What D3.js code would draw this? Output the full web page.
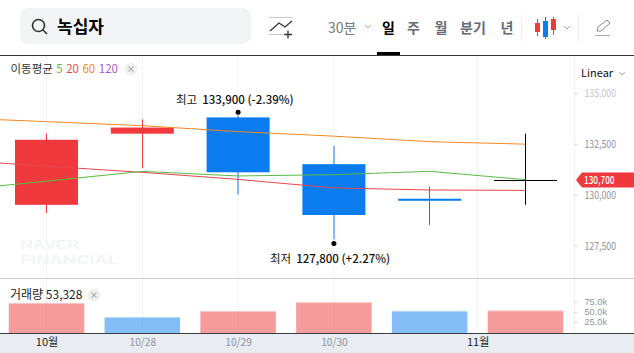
<!DOCTYPE html>
<html><head><meta charset="utf-8">
<script src="https://d3js.org/d3.v7.min.js"></script>
<style>
html,body{margin:0;padding:0;background:#fff;overflow:hidden}
text{font-family:"Noto Sans CJK KR","Noto Sans",sans-serif}
</style></head><body><svg id="c" width="634" height="353"></svg>
<script>
const categories=["10/27","10/28","10/29","10/30","10/31","11/3"];
const opens=[129500,133000,133800,131500,129800,130700];
const closes=[132700,133300,131100,129000,129700,130700];
const highs=[133000,133700,133900,132400,130400,133000];
const lows=[129100,131300,130000,127800,128500,129500];
const volumes=[71750,36750,51700,74000,52000,53328];
const volumeRising=[true,false,true,true,false,true];
const maIndex=[-1,0,1,2,3,4,5];
const ma5=[130197,130664,131146,130920,130984,131146,130738];
const ma20=[131720,131400,131097,130752,130330,130231,130211];
const ma60=[133787,133590,133393,133098,132877,132607,132484];
const priceTicks=[135000,132500,130000,127500];
const volumeTicks=[75000,50000,25000];
const dateTickIndex=[0,1,2,3,4.5];
const dateTickLabels=["10월","10/28","10/29","10/30","11월"];
const lastPrice=130700;

const RED="#f0393c",BLUE="#0b7cf0";
const svg=d3.select("#c");
const x=d3.scaleLinear().domain([0,5]).range([46.5,525.5]);
const y=d3.scaleLinear().domain([127500,135000]).range([245.5,93]);
const vY=d3.scaleLinear().domain([-3250,75000]).range([333,301.7]);
const bodyW=63, volW=75.5;
const px=v=>Math.round(v*2)/2;
const squeeze=(sel,w)=>sel.attr("textLength",w).attr("lengthAdjust","spacingAndGlyphs");

// x band and gridlines
svg.append("rect").attr("x",0).attr("y",334).attr("width",634).attr("height",19).attr("fill","#e9ecf1");
svg.append("g").selectAll("line").data(dateTickIndex).join("line")
  .attr("x1",d=>px(x(d))).attr("x2",d=>px(x(d))).attr("y1",56).attr("y2",333)
  .attr("stroke","#f0f2f5");
svg.append("line").attr("x1",574.5).attr("x2",574.5).attr("y1",56).attr("y2",333).attr("stroke","#eceef2");

// watermark
const wm=svg.append("g").attr("fill","#f3f5f8").style("font-weight",700).style("font-size","13px");
wm.append("text").attr("x",20).attr("y",248.5).attr("textLength",60).attr("lengthAdjust","spacingAndGlyphs").style("font-family","Liberation Sans").text("NAVER");
wm.append("text").attr("x",20).attr("y",263.5).attr("textLength",99).attr("lengthAdjust","spacingAndGlyphs").style("font-family","Liberation Sans").text("FINANCIAL");

// panes
svg.append("line").attr("x1",0).attr("x2",634).attr("y1",278.5).attr("y2",278.5).attr("stroke","#c8c9d2");
svg.append("line").attr("x1",0).attr("x2",634).attr("y1",333.5).attr("y2",333.5).attr("stroke","#3a3d42");
svg.append("line").attr("x1",0).attr("x2",634).attr("y1",55.5).attr("y2",55.5).attr("stroke","#34373b");

// volume
const candleColor=i=>closes[i]>=opens[i]?RED:BLUE;
const volColor=i=>volumeRising[i]?RED:BLUE;
const vg=svg.append("g");
vg.selectAll("rect.b").data(volumes).join("rect").attr("class","b")
  .attr("x",(d,i)=>x(i)-volW/2).attr("width",volW)
  .attr("y",d=>vY(d)+1).attr("height",d=>vY.range()[0]-vY(d)-1)
  .attr("fill",(d,i)=>volColor(i)).attr("fill-opacity",.5);
vg.selectAll("rect.t").data(volumes).join("rect").attr("class","t")
  .attr("x",(d,i)=>x(i)-volW/2).attr("width",volW)
  .attr("y",d=>vY(d)).attr("height",1)
  .attr("fill",(d,i)=>volColor(i)).attr("fill-opacity",.3);

// candles
const cg=svg.append("g");
categories.forEach((c,i)=>{
  const col=closes[i]===opens[i]?"#000":candleColor(i);
  cg.append("line").attr("x1",px(x(i))).attr("x2",px(x(i))).attr("y1",y(highs[i])).attr("y2",y(lows[i])).attr("stroke",col);
  const t=Math.min(y(opens[i]),y(closes[i])),h=Math.abs(y(opens[i])-y(closes[i]));
  if(h<1) cg.append("line").attr("x1",x(i)-bodyW/2).attr("x2",x(i)+bodyW/2).attr("y1",Math.round(t)+.5).attr("y2",Math.round(t)+.5).attr("stroke",col);
  else cg.append("rect").attr("x",x(i)-bodyW/2).attr("width",bodyW).attr("y",t).attr("height",h).attr("fill",col);
});

// moving averages
const line=vals=>d3.line().x((d,i)=>x(maIndex[i])).y(d=>y(d))(vals);
[[ma60,"#f5871f"],[ma20,"#e8474c"],[ma5,"#5cbb46"]].forEach(([v,c])=>{
  svg.append("path").attr("d",line(v)).attr("fill","none").attr("stroke",c).attr("stroke-width",1);
});

// high/low markers
const hiI=highs.indexOf(d3.max(highs)),loI=lows.indexOf(d3.min(lows));
svg.append("circle").attr("cx",x(hiI)).attr("cy",y(highs[hiI])-3).attr("r",2.5).attr("fill","#000");
svg.append("circle").attr("cx",x(loI)).attr("cy",y(lows[loI])+4).attr("r",2.5).attr("fill","#000");
const ann=(tx,ty,a,b)=>{
  const t=svg.append("text").attr("x",tx).attr("y",ty).attr("fill","#111").style("font-size","11.5px");
  t.append("tspan").text(a);
  t.append("tspan").attr("dx",5).style("font-weight",500).text(b);
};
ann(176,103.5,"최고","133,900 (-2.39%)");
ann(270,262.5,"최저","127,800 (+2.27%)");

// price axis
const pa=svg.append("g").attr("transform","translate(574.5,0)").call(d3.axisRight(y).tickValues(priceTicks).tickSize(3).tickPadding(7).tickFormat(d3.format(",")));
pa.select(".domain").remove();
pa.selectAll("line").attr("stroke","#d5d8de");
pa.selectAll("text").attr("fill","#8f949f").style("font-size","11px").call(squeeze,31.5);
pa.selectAll("text").filter(d=>d===135000).attr("fill","#c3c6cd");

// volume axis
const va=svg.append("g").attr("transform","translate(574.5,0)").call(d3.axisRight(vY).tickValues(volumeTicks).tickSize(3).tickPadding(7).tickFormat(d=>d3.format(".1f")(d/1000)+"k"));
va.select(".domain").remove();
va.selectAll("line").attr("stroke","#d5d8de");
va.selectAll("text").attr("fill","#8f949f").style("font-size","8.6px").style("font-family","Liberation Sans").call(squeeze,22.5);

// date axis
const da=svg.append("g").attr("transform","translate(0,334)").call(d3.axisBottom(x).tickValues(dateTickIndex).tickSize(0).tickPadding(4).tickFormat((d,i)=>dateTickLabels[i]));
da.select(".domain").remove();
da.selectAll("text").attr("fill",(d,i)=>dateTickLabels[i].includes("월")?"#222":"#8f949f").style("font-size","11px");
da.selectAll("text").filter((d,i)=>!dateTickLabels[i].includes("월")).call(squeeze,26.5);

// last price flag
const ly=y(lastPrice)-.5;
svg.append("path").attr("d",`M576,${ly} L582,${ly-7.5} H634 V${ly+7.5} H582 Z`).attr("fill",RED);
svg.append("text").attr("x",584).attr("y",ly+4).attr("fill","#fff").style("font-size","11px").style("font-weight",500).attr("textLength",30.5).attr("lengthAdjust","spacingAndGlyphs").text(d3.format(",")(lastPrice));

// scale selector
svg.append("text").attr("x",581).attr("y",77).attr("fill","#111").style("font-size","11px").text("Linear");
const chev=(cx,cy,c="#aaa")=>svg.append("path").attr("d",`M${cx-3},${cy-2} L${cx},${cy+1} L${cx+3},${cy-2}`).attr("fill","none").attr("stroke",c);
chev(622,74);

// legends
const lg=svg.append("text").attr("x",10.5).attr("y",73).style("font-size","11.5px");
lg.append("tspan").attr("fill","#333").text("이동평균");
[["5","#5cbb46"],["20","#ef4648"],["60","#f5871f"],["120","#a05ccf"]].forEach(([t,c])=>lg.append("tspan").attr("dx",3.5).attr("fill",c).text(t));
const closeBtn=(cx,cy)=>{
  svg.append("circle").attr("cx",cx).attr("cy",cy).attr("r",6.5).attr("fill","#f0f0f0");
  svg.append("path").attr("d",`M${cx-2.5},${cy-2.5}L${cx+2.5},${cy+2.5}M${cx+2.5},${cy-2.5}L${cx-2.5},${cy+2.5}`).attr("stroke","#b5b5b5").attr("stroke-width",1.2);
};
closeBtn(131,69);
svg.append("text").attr("x",10).attr("y",299).attr("fill","#222").style("font-size","12px").text("거래량 "+d3.format(",")(volumes[5]));
closeBtn(94,295);

// toolbar
svg.append("rect").attr("x",20).attr("y",8).attr("width",231).attr("height",36).attr("rx",8).attr("fill","#f3f4f6");
svg.append("circle").attr("cx",38.5).attr("cy",25.5).attr("r",6).attr("fill","none").attr("stroke","#333").attr("stroke-width",1.6);
svg.append("line").attr("x1",43).attr("y1",30).attr("x2",47).attr("y2",34).attr("stroke","#333").attr("stroke-width",1.6);
svg.append("text").attr("x",57).attr("y",33).attr("fill","#000").style("font-size","17px").style("font-weight",700).text("녹십자");
svg.append("path").attr("d","M269,17.5H292M269,34.5H283").attr("stroke","#c9c9c9").attr("fill","none");
svg.append("path").attr("d","M270,31L279,23L285,27L292,21").attr("stroke","#333").attr("stroke-width",1.3).attr("fill","none");
svg.append("path").attr("d","M284,34.5H292M288,30.5V38.5").attr("stroke","#333").attr("stroke-width",1.3).attr("fill","none");

svg.append("text").attr("x",328).attr("y",33).attr("fill","#777c84").style("font-size","14px").text("30분");
chev(368,27);
[["일",388.5,"#000"],["주",413.5,"#666b73"],["월",441,"#666b73"],["분기",473,"#666b73"],["년",507,"#666b73"]].forEach(([t,cx,c])=>
  svg.append("text").attr("x",cx).attr("y",32.5).attr("text-anchor","middle").attr("fill",c).style("font-size","14px").style("font-weight",700).text(t));
svg.append("rect").attr("x",377).attr("y",52).attr("width",23).attr("height",3).attr("fill","#000");
svg.append("path").attr("d","M521.5,14V42M578.5,14V42").attr("stroke","#eef0f2");
// candle icon
[[537,RED,23,32,19,36],[545,BLUE,21,37,17,39],[553,RED,19,30,17,35]].forEach(([cx,c,t,b,w1,w2])=>{
  svg.append("line").attr("x1",cx+.5).attr("x2",cx+.5).attr("y1",w1).attr("y2",w2).attr("stroke",c);
  svg.append("rect").attr("x",cx-2).attr("width",5).attr("y",t).attr("height",b-t).attr("fill",c);
});
chev(567,28);
svg.append("path").attr("d","M597,31L598,27L607,20L610,23L601,31Z").attr("fill","none").attr("stroke","#888");
svg.append("line").attr("x1",595).attr("x2",610).attr("y1",35.5).attr("y2",35.5).attr("stroke","#aaa");
</script></body></html>
